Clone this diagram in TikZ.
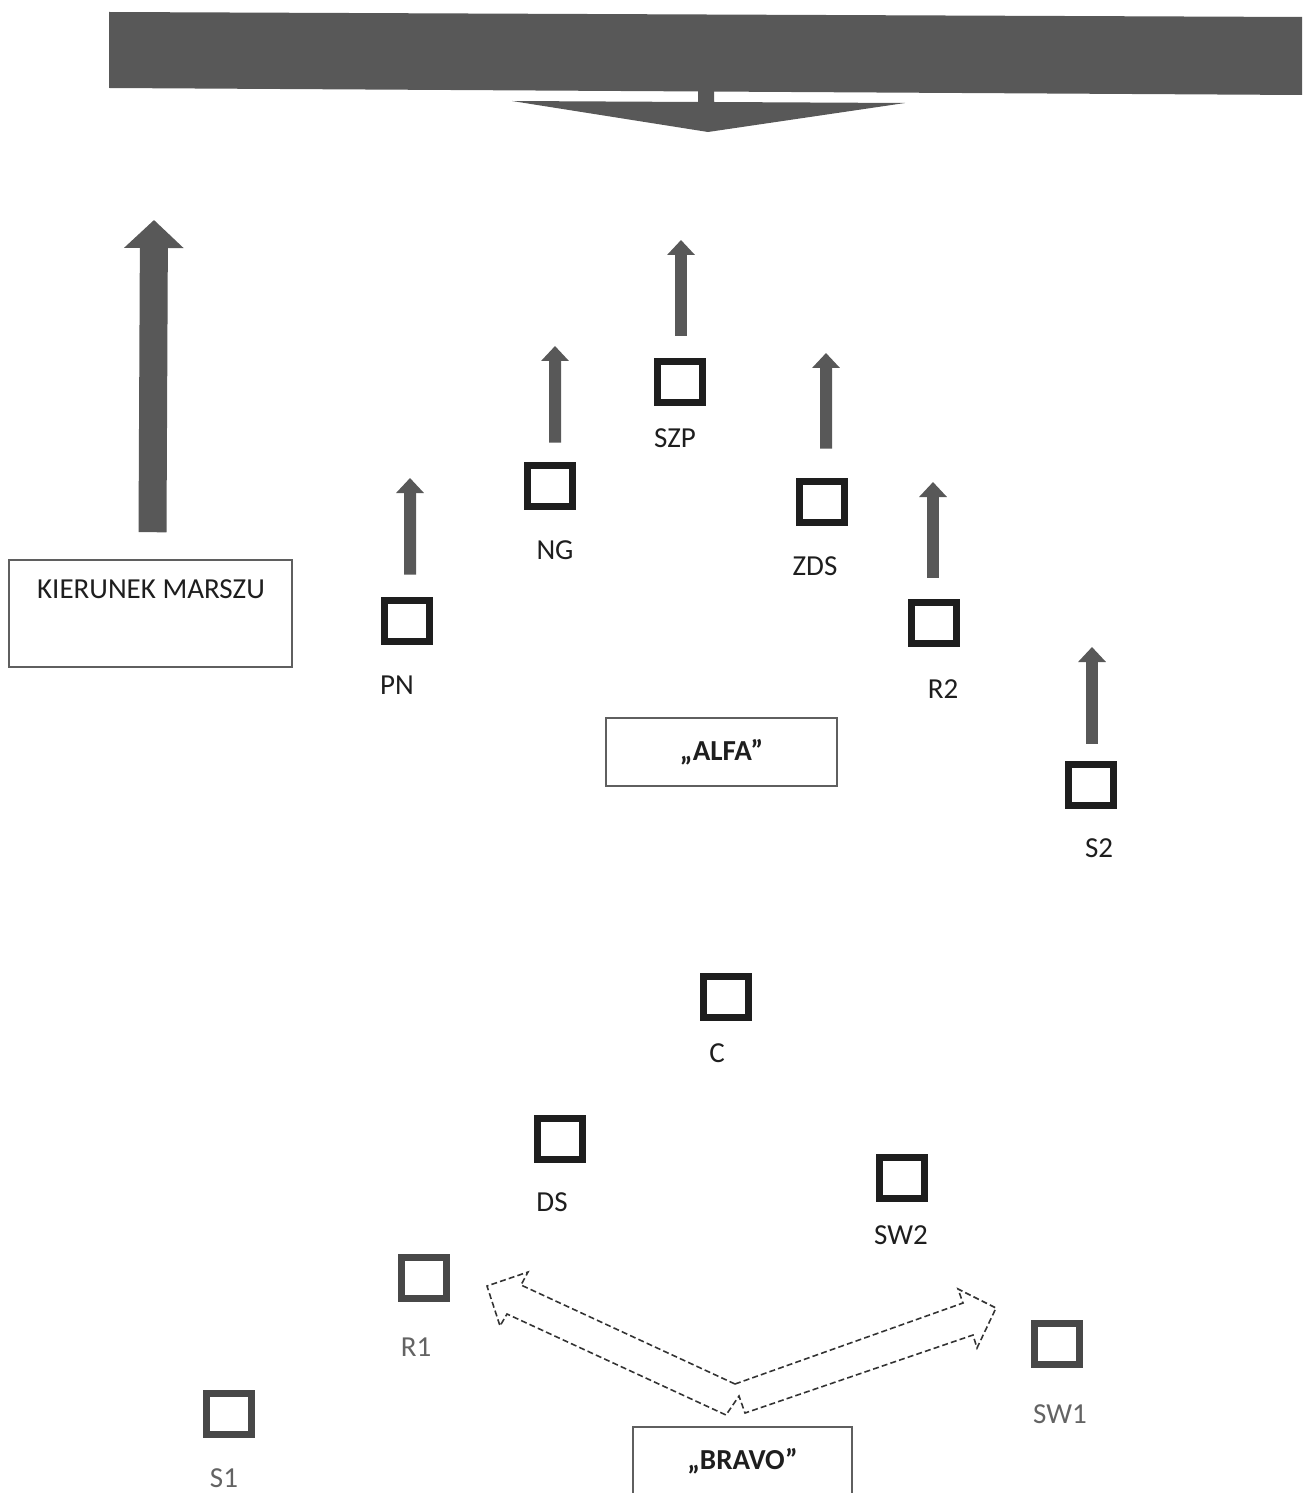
\documentclass[tikz,border=0pt]{standalone}
\usepackage{fontspec}
\setmainfont{Carlito}
\usepackage{xcolor}
\usepackage{tikz}
\usetikzlibrary{arrows.meta,positioning}

\definecolor{markgray}{RGB}{88,88,88}
\definecolor{unitblack}{RGB}{30,30,30}
\definecolor{unitgray}{RGB}{72,72,72}
\definecolor{framegray}{RGB}{95,95,95}

\begin{document}
\begin{tikzpicture}[x=0.02cm, y=-0.02cm,
    unit/.style={rectangle, draw=unitblack, line width=0.14cm, minimum width=0.9cm, minimum height=0.82cm, inner sep=0pt},
    rear/.style={unit, draw=unitgray},
    tag/.style={font=\fontsize{16.5}{20}\selectfont, text=unitblack, inner sep=0pt},
    reartag/.style={tag, text=unitgray!85},
    group/.style={rectangle, draw=framegray, line width=0.9pt, inner sep=0pt, font=\fontsize{16.5}{20}\selectfont\bfseries, text=unitblack},
    march/.style={markgray, line width=0.24cm, -{Triangle[width=0.54cm, length=0.3cm]}},
    bigmarch/.style={markgray, line width=0.56cm, -{Triangle[width=1.16cm, length=0.56cm]}},
    sweep/.style={draw=black!80, line width=0.9pt, dash pattern=on 3.4pt off 1.8pt, line join=miter}
]
    \useasboundingbox (0,0) rectangle (1302,1493);

    % Front line with the arrow under it
    \fill[markgray] (109,12) -- (1302,17) -- (1302,95) -- (109,88) -- cycle;
    \fill[markgray] (698,89) -- (714,89) -- (714,102) -- (905,103) -- (708,132) -- (512,101) -- (698,102) -- cycle;

    % Direction box and arrow
    \node[group, minimum width=5.66cm, minimum height=2.14cm] (kier) at (150.5,613.5) {};
    \node[tag] (kier-txt) at (151,589) {KIERUNEK MARSZU};
    \coordinate (kier-tip) at (154,220);
    \draw[bigmarch] ([xshift=0.04cm, yshift=0.54cm]kier.north) -- (kier-tip);

    % Group ALFA
    \node[unit] (szp) at (680,382) {};
    \node[unit] (ng) at (550,486) {};
    \node[unit] (zds) at (822,502) {};
    \node[unit] (pn) at (407,621) {};
    \node[unit] (r2) at (934,623) {};
    \node[unit] (s2) at (1091,785) {};

    \node[tag] (szp-lbl) at (675,438) {SZP};
    \node[tag] (ng-lbl) at (555,550) {NG};
    \node[tag] (zds-lbl) at (815,566) {ZDS};
    \node[tag] (pn-lbl) at (397,685) {PN};
    \node[tag] (r2-lbl) at (943,689) {R2};
    \node[tag] (s2-lbl) at (1099,848) {S2};

    \node[group, minimum width=4.62cm, minimum height=1.36cm] (alfa) at (721.5,752) {„ALFA”};

    % Movement of ALFA
    \coordinate (szp-tip) at (681,240);
    \coordinate (ng-tip) at (555,346);
    \coordinate (zds-tip) at (826,353);
    \coordinate (pn-tip) at (410,478);
    \coordinate (r2-tip) at (933,482);
    \coordinate (s2-tip) at (1092,647);
    \draw[march] ([xshift=0.02cm, yshift=0.45cm]szp.north) -- (szp-tip);
    \draw[march] ([xshift=0.1cm, yshift=0.39cm]ng.north) -- (ng-tip);
    \draw[march] ([xshift=0.08cm, yshift=0.59cm]zds.north) -- (zds-tip);
    \draw[march] ([xshift=0.06cm, yshift=0.45cm]pn.north) -- (pn-tip);
    \draw[march] ([xshift=-0.02cm, yshift=0.43cm]r2.north) -- (r2-tip);
    \draw[march] ([xshift=0.02cm, yshift=0.35cm]s2.north) -- (s2-tip);

    % Group BRAVO
    \node[unit] (c) at (726,997) {};
    \node[unit] (ds) at (560,1139) {};
    \node[unit] (sw2) at (902,1178) {};
    \node[rear] (r1) at (424,1278) {};
    \node[rear] (sw1) at (1057,1344) {};
    \node[rear] (s1) at (229,1414) {};

    \node[tag] (c-lbl) at (717,1053) {C};
    \node[tag] (ds-lbl) at (552,1202) {DS};
    \node[tag] (sw2-lbl) at (901,1235) {SW2};
    \node[reartag] (r1-lbl) at (416,1347) {R1};
    \node[reartag] (sw1-lbl) at (1060,1414) {SW1};
    \node[reartag] (s1-lbl) at (224,1478) {S1};

    \node[group, minimum width=4.38cm, minimum height=1.36cm] (bravo) at (742.5,1461) {„BRAVO”};

    % Spread of BRAVO
    \draw[sweep] (735,1384) -- (521,1285) -- (528,1272) -- (487,1286) -- (500,1326) -- (507,1314) -- (726,1415)
        -- (739,1396) -- (745,1413) -- (973,1335) -- (977,1348) -- (996,1308) -- (958,1289) -- (963,1303) -- cycle;
\end{tikzpicture}
\end{document}
